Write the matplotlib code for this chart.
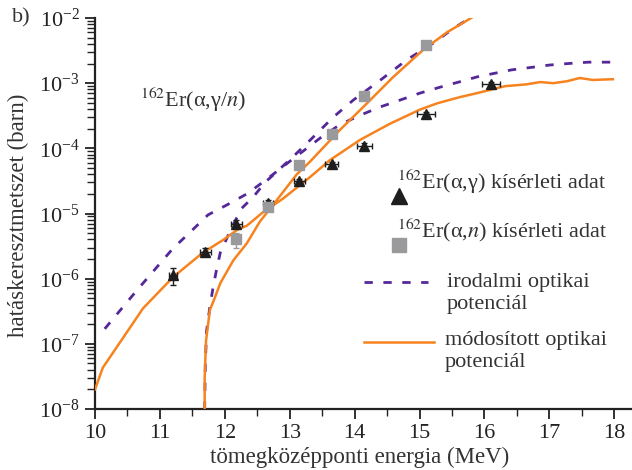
import matplotlib
matplotlib.use("Agg")
import matplotlib.pyplot as plt
from matplotlib.lines import Line2D
from matplotlib.ticker import LogLocator, MultipleLocator, NullFormatter
import numpy as np

plt.rcParams['font.family'] = ['Liberation Serif', 'DejaVu Serif']
plt.rcParams['mathtext.fontset'] = 'stix'

# ---- data ----
x_lit_g = [10.15, 10.65, 11.2, 11.46, 11.74, 12.03, 12.34, 12.62, 13.0, 13.47, 13.77, 14.08,
           14.39, 14.70, 15.0, 15.32, 15.62, 15.89, 16.13, 16.42, 16.73, 17.01, 17.29, 17.6, 18.0]
y_lit_g = [1.7e-7, 6.7e-7, 2.9e-6, 5.1e-6, 9.5e-6, 1.35e-5, 2.0e-5, 3.2e-5, 6.3e-5, 1.44e-4,
           2.3e-4, 3.2e-4, 4.3e-4, 5.5e-4, 7.0e-4, 8.7e-4, 1.05e-3, 1.25e-3, 1.4e-3, 1.6e-3,
           1.75e-3, 1.9e-3, 2.0e-3, 2.1e-3, 2.1e-3]

x_lit_n = [11.69, 11.69, 11.70, 11.72, 11.77, 11.82, 11.88, 11.93, 12.11, 12.26, 12.44, 12.62,
           13.05, 13.36, 13.67, 13.98, 14.39, 14.81, 15.21, 15.52, 15.78]
y_lit_n = [5e-9, 1e-8, 5e-8, 1.6e-7, 3.7e-7, 7.4e-7, 1.5e-6, 2.5e-6, 6.2e-6, 1.2e-5, 1.8e-5,
           3.0e-5, 7.4e-5, 1.48e-4, 3.0e-4, 5.5e-4, 1.1e-3, 2.3e-3, 4.1e-3, 6.9e-3, 1.0e-2]

x_mod_g = [10.0, 10.12, 10.74, 11.2, 11.66, 11.97, 12.19, 12.34, 12.59, 12.9, 13.31, 13.62,
           14.08, 14.55, 15.0, 15.27, 15.62, 15.93, 16.13, 16.32, 16.65, 16.86, 17.06, 17.27,
           17.47, 17.67, 17.98]
y_mod_g = [2.0e-8, 4.3e-8, 3.5e-7, 1.05e-6, 2.5e-6, 3.9e-6, 5.6e-6, 6.5e-6, 1.05e-5, 1.7e-5,
           3.6e-5, 6.6e-5, 1.34e-4, 2.4e-4, 3.9e-4, 4.9e-4, 6.1e-4, 7.2e-4, 8.1e-4, 9.0e-4,
           9.6e-4, 1.04e-3, 1.0e-3, 1.07e-3, 1.2e-3, 1.12e-3, 1.15e-3]

x_mod_n = [11.69, 11.69, 11.71, 11.77, 11.85, 11.93, 12.13, 12.34, 12.54, 12.8, 13.11, 13.31,
           13.77, 14.19, 14.59, 15.05, 15.42, 15.81]
y_mod_n = [5e-9, 3e-8, 1.1e-7, 3.3e-7, 5.2e-7, 8.5e-7, 1.9e-6, 3.5e-6, 7.5e-6, 1.6e-5, 4.0e-5,
           6.2e-5, 1.9e-4, 4.9e-4, 1.23e-3, 3.2e-3, 6.0e-3, 1.02e-2]

tri_x = [11.2, 11.7, 12.18, 12.67, 13.15, 13.65, 14.15, 15.1, 16.1]
tri_y = [1.13e-6, 2.6e-6, 7.0e-6, 1.45e-5, 3.1e-5, 5.7e-5, 1.1e-4, 3.4e-4, 9.7e-4]
tri_rel_err = [0.3, 0.12, 0.12, 0.1, 0.1, 0.1, 0.1, 0.08, 0.08]
tri_xerr = [0.06, 0.08, 0.08, 0.08, 0.08, 0.1, 0.12, 0.14, 0.14]

sq_x = [12.18, 12.67, 13.15, 13.65, 14.15, 15.1]
sq_y = [4.0e-6, 1.25e-5, 5.5e-5, 1.65e-4, 6.3e-4, 3.8e-3]
sq_rel_err = [0.25, 0.1, 0.08, 0.08, 0.08, 0.08]

xticks = [10, 11, 12, 13, 14, 15, 16, 17, 18]

ORANGE = '#F7831F'
PURPLE = '#55289A'
GRAY = '#9A9A9C'
BLACK = '#1E1E1E'
DASH = (3.0, 3.8)

W, H = 632, 470
fig = plt.figure(figsize=(W / 100, H / 100), dpi=100)
ax = fig.add_axes([95 / W, 61 / H, (W - 95) / W, (409 - 18) / H])

ax.set_yscale('log')
ax.set_xlim(10, 10 + (W - 95) / 64.9)
ax.set_ylim(1e-8, 1e-2)

ax.plot(x_lit_g, y_lit_g, color=PURPLE, lw=2.0, dashes=DASH, zorder=3)
ax.plot(x_lit_n, y_lit_n, color=PURPLE, lw=2.0, dashes=DASH, zorder=3)
ax.plot(x_mod_g, y_mod_g, color=ORANGE, lw=1.8, zorder=4)
ax.plot(x_mod_n, y_mod_n, color=ORANGE, lw=1.8, zorder=4)

tri_y_arr = np.array(tri_y)
tri_err = tri_y_arr * np.array(tri_rel_err)
ax.errorbar(tri_x, tri_y, yerr=tri_err, xerr=tri_xerr, fmt='^', color=BLACK, ms=7,
            elinewidth=1.0, capsize=2.5, zorder=5)
sq_y_arr = np.array(sq_y)
sq_err = sq_y_arr * np.array(sq_rel_err)
ax.errorbar(sq_x, sq_y, yerr=sq_err, fmt='s', color=GRAY, ecolor=GRAY, ms=7,
            elinewidth=1.0, capsize=2.5, zorder=5)

for s in ['top', 'right']:
    ax.spines[s].set_visible(False)
for s in ['left', 'bottom']:
    ax.spines[s].set_linewidth(1.6)
    ax.spines[s].set_color('#222222')

ax.set_xticks(xticks)
ax.set_xticklabels([str(v) for v in xticks])
ax.xaxis.set_minor_locator(MultipleLocator(0.5))
ax.yaxis.set_major_locator(LogLocator(base=10, numticks=10))
ax.yaxis.set_minor_locator(LogLocator(base=10, subs=np.arange(2, 10), numticks=10))
ax.yaxis.set_minor_formatter(NullFormatter())
ax.tick_params(axis='both', which='major', direction='out', length=7, width=1.3,
               labelsize=16, colors='#222222', pad=4)
ax.tick_params(axis='both', which='minor', direction='out', length=5, width=1.0,
               colors='#222222')
ax.tick_params(axis='y', which='minor', length=6)

def fx(px):
    return px / W

def fy(py):
    return 1 - py / H

tc = '#333333'
FS = 16
fig.text(fx(12), fy(18), 'b)', fontsize=FS, ha='left', va='center', color=tc)
fig.text(fx(18), fy(215), 'hatáskeresztmetszet (barn)', fontsize=16.5, rotation=90,
         ha='center', va='center', color=tc)
fig.text(fx(360), fy(457), 'tömegközépponti energia (MeV)', fontsize=16.5,
         ha='center', va='center', color=tc)
fig.text(fx(140), fy(100), r'$^{162}$Er(α,γ/$n$)', fontsize=FS, ha='left', va='center',
         color=tc)

# legend
fig.text(fx(397), fy(182), r'$^{162}$Er(α,γ) kísérleti adat', fontsize=FS, ha='left',
         va='center', color=tc)
fig.add_artist(Line2D([fx(399)], [fy(196)], marker='^', ms=11, color=BLACK, ls='none',
                      transform=fig.transFigure))
fig.text(fx(397), fy(230), r'$^{162}$Er(α,$n$) kísérleti adat', fontsize=FS, ha='left',
         va='center', color=tc)
fig.add_artist(Line2D([fx(399)], [fy(245)], marker='s', ms=10, color=GRAY, ls='none',
                      transform=fig.transFigure))
fig.add_artist(Line2D([fx(364), fx(428)], [fy(282), fy(282)], color=PURPLE, lw=2.0,
                      dashes=DASH, transform=fig.transFigure))
fig.text(fx(447), fy(282), 'irodalmi optikai', fontsize=FS, ha='left', va='center', color=tc)
fig.text(fx(447), fy(304), 'potenciál', fontsize=FS, ha='left', va='center', color=tc)
fig.add_artist(Line2D([fx(364), fx(434)], [fy(342), fy(342)], color=ORANGE, lw=1.8,
                      transform=fig.transFigure))
fig.text(fx(445), fy(340), 'módosított optikai', fontsize=FS, ha='left', va='center', color=tc)
fig.text(fx(445), fy(363), 'potenciál', fontsize=FS, ha='left', va='center', color=tc)

fig.savefig('out.png', dpi=100)
